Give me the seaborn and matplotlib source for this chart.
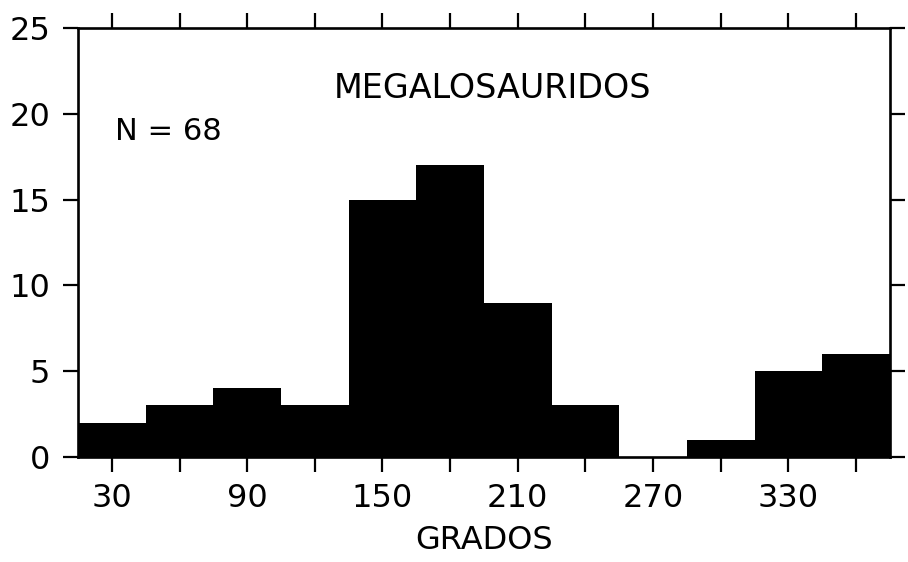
import numpy as np
import pandas as pd
import seaborn as sns
import matplotlib.pyplot as plt
from matplotlib.ticker import MultipleLocator

# orientaciones (centro de clase, grados) y frecuencias
grados = [30, 60, 90, 120, 150, 180, 210, 240, 270, 300, 330, 360]
frecuencia = [2, 3, 4, 3, 15, 17, 9, 3, 0, 1, 5, 6]
xticks = [30, 90, 150, 210, 270, 330]
yticks = [0, 5, 10, 15, 20, 25]

data1 = pd.DataFrame({'grados': grados, 'n': frecuencia})

sns.set_style('ticks')
plt.rcParams['font.family'] = ['DejaVu Sans']
plt.rcParams['text.color'] = 'black'
plt.rcParams['xtick.color'] = 'black'
plt.rcParams['ytick.color'] = 'black'
plt.rcParams['axes.labelcolor'] = 'black'

fig = plt.figure(figsize=(9.08, 5.62), dpi=100)
ax = fig.add_axes([0.086, 0.187, 0.894, 0.763])

sns.histplot(data=data1, x='grados', weights='n', bins=12, binrange=(15, 375),
             color='black', alpha=1, linewidth=0, ax=ax)

ax.set_xlim(15, 375)
ax.set_ylim(0, 25)
ax.set_xticks(xticks)
ax.xaxis.set_minor_locator(MultipleLocator(30))
ax.set_yticks(yticks)
ax.tick_params(axis='both', which='both', direction='out', length=11, width=1.6,
               top=True, right=True, labelsize=23, pad=8)
ax.tick_params(axis='y', pad=9)
for s in ax.spines.values():
    s.set_linewidth(1.9)
    s.set_color('black')

ax.set_xlabel('GRADOS', fontsize=23, labelpad=8)
ax.set_ylabel('')
ax.text(0.511, 0.86, 'MEGALOSAURIDOS', transform=ax.transAxes, ha='center',
        va='center', fontsize=24)
ax.text(0.046, 0.76, 'N = 68', transform=ax.transAxes, ha='left',
        va='center', fontsize=22)

fig.savefig('out.png', dpi=100)
